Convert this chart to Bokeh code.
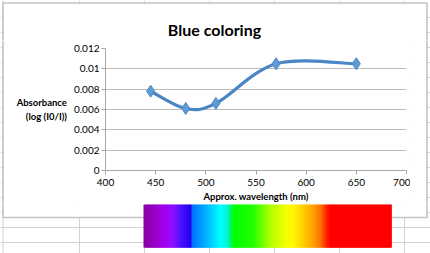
import numpy as np
from bokeh.plotting import figure
from bokeh.models import CustomJSTickFormatter, Range1d
from bokeh.core.properties import value
from bokeh.layouts import column, row
from bokeh.embed import file_html
from bokeh.resources import INLINE

# ---- data ----
wavelength = [445, 480, 510, 570, 650]
absorbance = [0.0078, 0.0061, 0.0066, 0.0105, 0.0105]
x_ticks = [400, 450, 500, 550, 600, 650, 700]
y_ticks = [0, 0.002, 0.004, 0.006, 0.008, 0.01, 0.012]
y_tick_labels = ["0", "0.002", "0.004", "0.006", "0.008", "0.01", "0.012"]
title_text = "Blue coloring"
x_title = "Approx. wavelength (nm)"
y_title = "Absorbance\n(log (I0/I))"

# ---- page geometry (pixels) ----
W, H = 430, 253
BOX_L, BOX_R, BOX_T, BOX_B = 2.5, 426.5, 2.5, 217   # grey chart frame
FL, FR, FT, FB = 105, 406, 48, 170                  # plot area
TOP_H = 40          # strip holding the title
MID_B = 204         # bottom of the chart figure
LEFT_W, RIGHT_X = 12, 410
FONT = "Lato"
LINE_BLUE = "#4a86c6"
FRAME_C = "#c4c4c4"
CELL_C = "#d2d2d2"
ROW_YS = list(range(17, 253, 15))
COL_XS = [2.5, 79, 144, 209, 274, 339, 404]


def deco(x0, x1, y0, y1):
    """A plain figure whose data units are page pixels (y downward)."""
    f = figure(width=int(x1 - x0), height=int(y1 - y0), title=None,
               x_range=Range1d(x0, x1), y_range=Range1d(y1, y0),
               output_backend="svg", toolbar_location=None,
               x_axis_location=None, y_axis_location=None,
               min_border=0, min_border_left=0, min_border_right=0,
               min_border_top=0, min_border_bottom=0,
               background_fill_color="white", border_fill_color="white",
               outline_line_color=None)
    f.xgrid.visible = False
    f.ygrid.visible = False
    return f


def page_lines(f, x0, x1, y0, y1):
    """Spreadsheet cells, white chart box and its grey frame, clipped to a strip."""
    cells = []
    for y in ROW_YS:
        if y0 < y < y1:
            cells.append((x0, y, x1, y))
    for x in COL_XS:
        if x0 <= x <= x1:
            cells.append((x, y0, x, y1))
    if cells:
        f.segment(x0=[s[0] for s in cells], y0=[s[1] for s in cells],
                  x1=[s[2] for s in cells], y1=[s[3] for s in cells],
                  line_color=CELL_C, line_width=1)
    f.quad(left=[max(BOX_L, x0)], right=[min(BOX_R, x1)],
           top=[max(BOX_T, y0)], bottom=[min(BOX_B, y1)],
           fill_color="white", line_color=None)
    fr = [(BOX_L - 0.7, BOX_T, BOX_R + 0.7, BOX_T), (BOX_L - 0.7, BOX_B, BOX_R + 0.7, BOX_B),
          (BOX_L, BOX_T, BOX_L, BOX_B), (BOX_R, BOX_T, BOX_R, BOX_B)]
    f.segment(x0=[s[0] for s in fr], y0=[s[1] for s in fr],
              x1=[s[2] for s in fr], y1=[s[3] for s in fr],
              line_color=FRAME_C, line_width=1.6)


# ---- top strip (title + top of the frame), full width ----
top = deco(0, W, 0, TOP_H)
page_lines(top, 0, W, 0, TOP_H)
top.text(x=[214], y=[28.5], text=[title_text], text_align="center",
         text_baseline="alphabetic", text_font=value(FONT),
         text_font_style="bold", text_font_size="16px", text_color="black")

# ---- side strips of the middle band ----
left = deco(0, LEFT_W, TOP_H, MID_B)
page_lines(left, 0, LEFT_W, TOP_H, MID_B)
right = deco(RIGHT_X, W, TOP_H, MID_B)
page_lines(right, RIGHT_X, W, TOP_H, MID_B)

# ---- the chart itself ----
p = figure(width=RIGHT_X - LEFT_W, height=MID_B - TOP_H, title=None,
           x_range=(400, 700), y_range=(0, 0.012),
           output_backend="svg", toolbar_location=None,
           min_border_left=FL - LEFT_W, min_border_right=RIGHT_X - FR,
           min_border_top=FT - TOP_H, min_border_bottom=MID_B - FB,
           background_fill_color="white", border_fill_color="white",
           outline_line_color=None)

for ax in (p.xaxis[0], p.yaxis[0]):
    ax.axis_line_color = "#a8a8a8"
    ax.major_tick_line_color = "#a8a8a8"
    ax.minor_tick_line_color = None
    ax.major_tick_in = 0
    ax.major_tick_out = 4
    ax.major_label_text_font = FONT
    ax.major_label_text_font_size = "10px"
    ax.major_label_text_color = "black"
    ax.axis_label_text_font = FONT
    ax.axis_label_text_font_style = "bold"
    ax.axis_label_text_font_size = "9.5px"
    ax.axis_label_text_color = "black"

p.xaxis.ticker = x_ticks
p.xaxis.major_label_standoff = 4
p.xaxis.axis_label = x_title
p.xaxis.axis_label_standoff = 2

p.yaxis.ticker = y_ticks
p.yaxis.formatter = CustomJSTickFormatter(args=dict(labels=y_tick_labels),
                                          code="return labels[index]")
p.yaxis.major_label_standoff = 2
p.yaxis.axis_label = y_title
p.yaxis.axis_label_orientation = "horizontal"
p.yaxis.axis_label_standoff = 4

p.xgrid.grid_line_color = None
p.ygrid.ticker = y_ticks
p.ygrid.grid_line_color = "#bdbdbd"
p.ygrid.grid_line_width = 1

# smoothed line (Bezier through the points, Catmull-Rom style control points)
xs = np.array(wavelength, dtype=float)
ys = np.array(absorbance, dtype=float)
xp = np.concatenate([[xs[0]], xs, [xs[-1]]])
yp = np.concatenate([[ys[0]], ys, [ys[-1]]])
n = len(xs)
cx0 = xs[:-1] + (xp[2:n + 1] - xp[0:n - 1]) / 6.0
cy0 = ys[:-1] + (yp[2:n + 1] - yp[0:n - 1]) / 6.0
cx1 = xs[1:] - (xp[3:n + 2] - xp[1:n]) / 6.0
cy1 = ys[1:] - (yp[3:n + 2] - yp[1:n]) / 6.0
p.bezier(x0=xs[:-1], y0=ys[:-1], x1=xs[1:], y1=ys[1:],
         cx0=cx0, cy0=cy0, cx1=cx1, cy1=cy1,
         line_color=LINE_BLUE, line_width=3.2)
p.scatter(x=wavelength, y=absorbance, marker="diamond", size=12,
          fill_color="#5e9cd8", line_color="#4a86c6", line_width=1)

# ---- bottom strip: end of chart frame, cells, colour spectrum ----
bot = deco(0, W, MID_B, H)
page_lines(bot, 0, W, MID_B, H)

stops = [
    (143, (0x8a, 0x00, 0xa0)), (155, (0x98, 0x00, 0xc8)), (165, (0xa2, 0x00, 0xf4)),
    (172, (0x90, 0x10, 0xff)), (180, (0x50, 0x10, 0xff)), (190.5, (0x20, 0x00, 0xee)),
    (191.5, (0x00, 0x70, 0xff)), (200, (0x00, 0x98, 0xff)), (212, (0x00, 0xd4, 0xff)),
    (220, (0x00, 0xff, 0xff)), (227, (0x00, 0xf4, 0xd8)), (231, (0x00, 0xf8, 0x40)),
    (234, (0x00, 0xff, 0x00)), (252, (0x20, 0xff, 0x00)), (270, (0xb0, 0xff, 0x00)),
    (286, (0xf4, 0xff, 0x00)), (293, (0xff, 0xf8, 0x00)), (302, (0xff, 0xd0, 0x00)),
    (313, (0xff, 0xa0, 0x00)), (321, (0xff, 0x68, 0x00)), (326, (0xff, 0x20, 0x00)),
    (330, (0xff, 0x00, 0x00)), (391, (0xff, 0x00, 0x00)),
]
SP_L, SP_R, SP_T, SP_B = 143, 391, 204, 247
sx = np.array([s[0] for s in stops], dtype=float)
sc = np.array([s[1] for s in stops], dtype=float)
lefts = np.arange(SP_L, SP_R)
mids = lefts + 0.5
cols = ["#%02x%02x%02x" % tuple(int(round(np.interp(m, sx, sc[:, k]))) for k in range(3))
        for m in mids]
rights = np.minimum(lefts + 3, SP_R)
bot.quad(left=lefts, right=rights, top=[SP_T] * len(lefts), bottom=[SP_B] * len(lefts),
         fill_color=cols, fill_alpha=1.0, line_color=None)

middle = row(left, column(p, spacing=0), right, spacing=0)
layout = column(top, middle, bot, spacing=0)
open("out.html", "w").write(file_html(layout, INLINE))
